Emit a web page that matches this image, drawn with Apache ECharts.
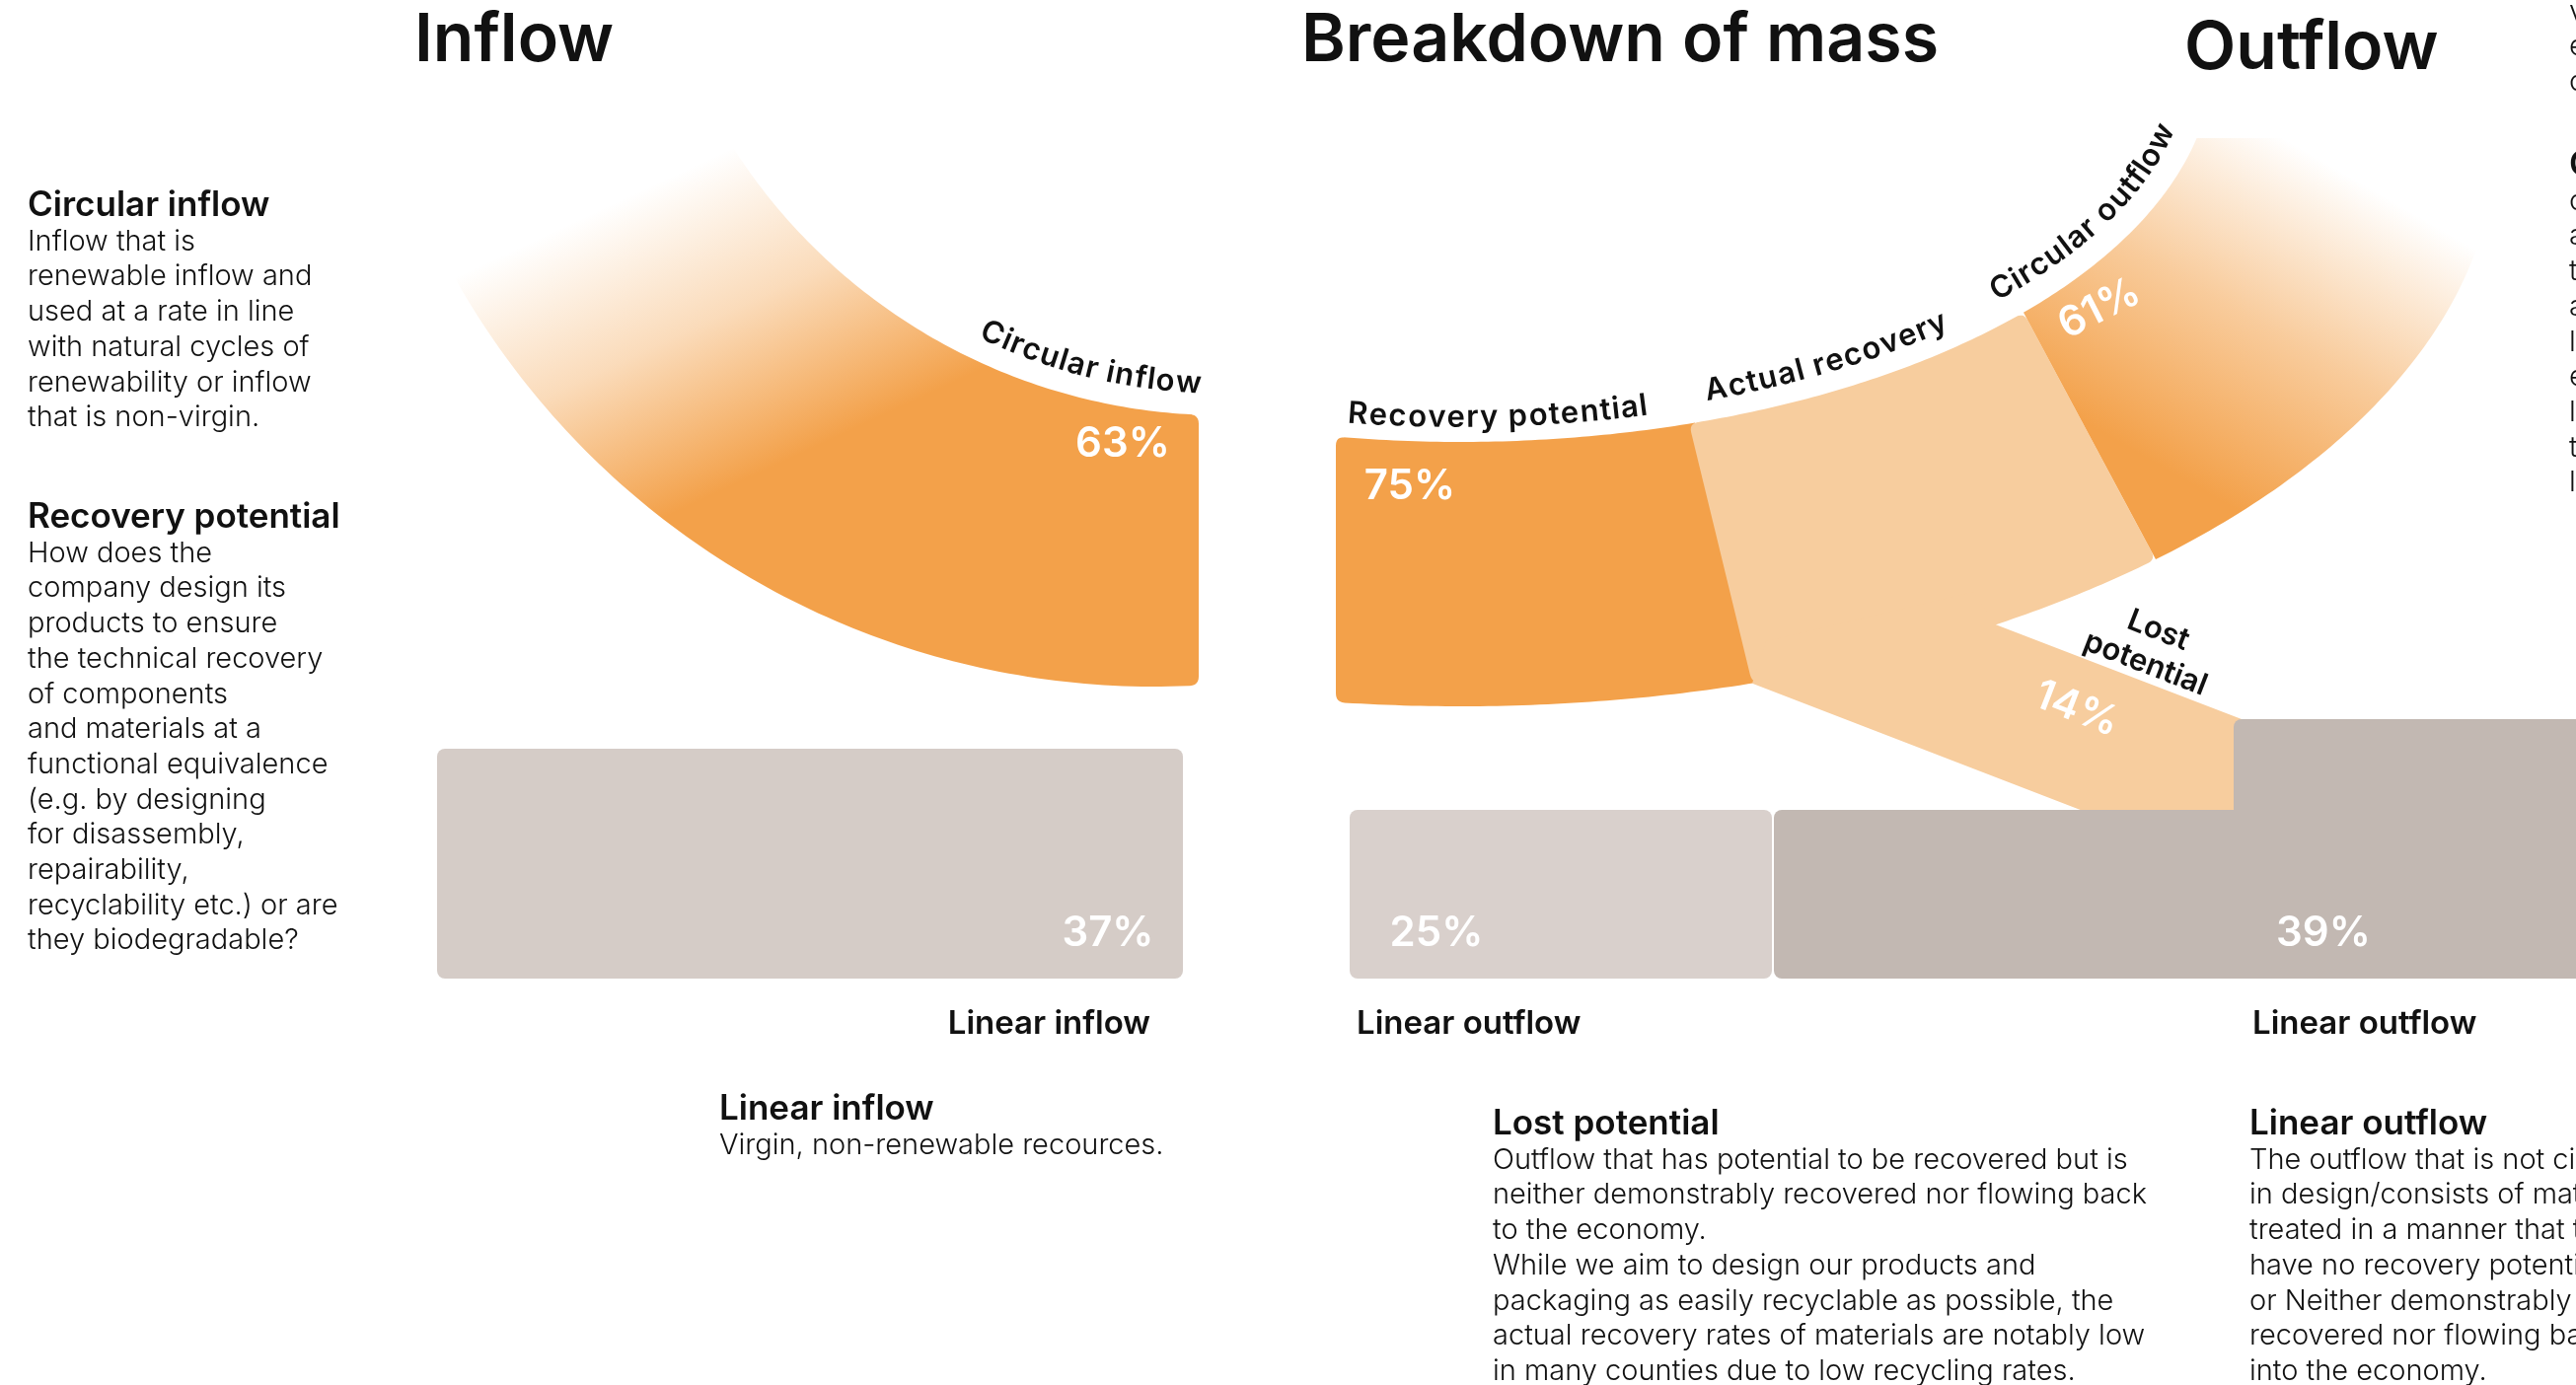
<!DOCTYPE html>
<html>
<head>
<meta charset="utf-8">
<title>Breakdown of mass</title>
<script src="https://cdn.jsdelivr.net/npm/echarts@6/dist/echarts.min.js"></script>
<style>
  html, body { margin: 0; padding: 0; background: #ffffff; overflow: hidden; }
  #chart { width: 2611px; height: 1404px; }
</style>
</head>
<body>
<div id="chart"></div>
<script>
// ---------------- data ----------------
const inflowCategories = ['Circular inflow', 'Linear inflow'];
const inflowShares = [63, 37];

const outflowCategories = ['Recovery potential', 'Actual recovery', 'Circular outflow', 'Lost potential', 'Linear outflow', 'Linear outflow'];
const outflowShares = [75, null, 61, 14, 25, 39];

const titles = ['Inflow', 'Breakdown of mass', 'Outflow'];

// ---------------- look ----------------
const FONT = "Inter, 'Noto Sans', sans-serif";
const ORANGE = '#F3A14A';
const PEACH = '#F7CD9E';
const GREY_IN = '#D5CCC7';
const GREY_LIGHT = '#D9D0CC';
const GREY_DARK = '#C2B8B2';
const INK = '#111111';

// ---------------- layout (pixels on a 2611 x 1404 canvas) ----------------
const W = 2611, H = 1404;
const INFLOW_INNER = { cx: 1239, cy: -168, a: 589, b: 589 };
const INFLOW_OUTER = { cx: 1169, cy: -116, a: 812, b: 812 };
const BAND_INNER = { cx: 1480, cy: 57, a: 764, b: 391 };
const BAND_OUTER = { cx: 1480, cy: 141, a: 1050, b: 575 };
const ARC_TOP = 138;
const CORNER = 9;

function pt(e, phi) { return [e.cx + e.a * Math.cos(phi), e.cy + e.b * Math.sin(phi)]; }
function clamp1(v) { return Math.max(-1, Math.min(1, v)); }
function phiX(e, x) { return Math.acos(clamp1((x - e.cx) / e.a)); }
function phiYRight(e, y) { return Math.asin(clamp1((y - e.cy) / e.b)); }
function phiYLeft(e, y) { return Math.PI - phiYRight(e, y); }
function arcPts(e, p0, p1, n) {
  const out = [];
  for (let i = 0; i <= n; i++) out.push(pt(e, p0 + (p1 - p0) * i / n));
  return out;
}
function shrink(e, d) { return { cx: e.cx, cy: e.cy, a: e.a - d, b: e.b - d }; }

// soften chosen vertices of an outline with a small quadratic fillet
function roundCorners(pts, corners, r) {
  const n = pts.length, out = [];
  for (let i = 0; i < n; i++) {
    const P = pts[i];
    if (corners.indexOf(i) < 0) { out.push(P); continue; }
    const A = pts[(i - 1 + n) % n], B = pts[(i + 1) % n];
    // walk back/forward along the outline until distance r is reached
    const along = (dir) => {
      let k = i, acc = 0, cur = P;
      while (true) {
        const nx = pts[(k + dir + n) % n];
        const d = Math.hypot(nx[0] - cur[0], nx[1] - cur[1]);
        if (acc + d >= r || d === 0) {
          const t = d === 0 ? 0 : (r - acc) / d;
          return [cur[0] + (nx[0] - cur[0]) * t, cur[1] + (nx[1] - cur[1]) * t];
        }
        acc += d; cur = nx; k += dir;
      }
    };
    const P1 = along(-1), P2 = along(1);
    for (let s = 0; s <= 6; s++) {
      const t = s / 6, u = 1 - t;
      out.push([u * u * P1[0] + 2 * u * t * P[0] + t * t * P2[0], u * u * P1[1] + 2 * u * t * P[1] + t * t * P2[1]]);
    }
  }
  return out;
}

// text laid out character by character along an elliptical arc
const measureCtx = document.createElement('canvas').getContext('2d');
const CURVE_SPREAD = 1.09;
function curvedText(api, e, startX, text, font, color) {
  measureCtx.font = font;
  const speed = p => Math.hypot(e.a * Math.sin(p), e.b * Math.cos(p));
  const advance = (phi, dist) => { const h = 0.0002; while (dist > 0) { dist -= speed(phi) * h; phi -= h; } return phi; };
  let phi = phiX(e, startX);
  let prev = 0;
  const out = [];
  for (let k = 0; k < text.length; k++) {
    const upto = measureCtx.measureText(text.slice(0, k + 1)).width;
    const w = (upto - prev) * CURVE_SPREAD; prev = upto;
    const mid = advance(phi, w / 2);
    const p = api.coord(pt(e, mid));
    const ang = Math.atan2(-e.b * Math.cos(mid), e.a * Math.sin(mid));
    if (text[k] !== ' ') {
      out.push({ type: 'text', x: p[0], y: p[1], rotation: -ang,
        style: { text: text[k], font: font, fill: color, align: 'center', verticalAlign: 'bottom' } });
    }
    phi = advance(mid, w / 2);
  }
  return out;
}

const PCT_FONT = '600 42px ' + FONT;
const LABEL_FONT = '600 31px ' + FONT;
const CAPTION_FONT = '600 33px ' + FONT;

function pctText(api, p, value, rot) {
  const c = api.coord(p);
  return { type: 'text', x: c[0], y: c[1], rotation: rot || 0,
    style: { text: value + '%', font: PCT_FONT, fill: '#ffffff', align: 'center', verticalAlign: 'middle' } };
}
function caption(api, p, text, align) {
  const c = api.coord(p);
  return { type: 'text', x: c[0], y: c[1],
    style: { text: text, font: CAPTION_FONT, fill: INK, align: align, verticalAlign: 'middle' } };
}
function poly(api, points, fill) {
  return { type: 'polygon', shape: { points: points.map(p => api.coord(p)) }, style: { fill: fill } };
}
function box(api, x0, y0, x1, y1, r, fill) {
  const a = api.coord([x0, y0]), b = api.coord([x1, y1]);
  return { type: 'rect', shape: { x: a[0], y: a[1], width: b[0] - a[0], height: b[1] - a[1], r: r }, style: { fill: fill } };
}

// ---------------- inflow marks ----------------
function renderInflow(params, api) {
  const i = params.dataIndex;
  const v = inflowShares[i];
  const name = inflowCategories[i];
  if (i === 0) {
    const endX = 1215;
    const inner = arcPts(INFLOW_INNER, phiYLeft(INFLOW_INNER, ARC_TOP), phiX(INFLOW_INNER, endX), 90);
    const outer = arcPts(INFLOW_OUTER, phiX(INFLOW_OUTER, endX), phiYLeft(INFLOW_OUTER, ARC_TOP), 110);
    const outline = roundCorners(inner.concat(outer), [90, 91], CORNER);
    const s = api.coord([560, 235]), e = api.coord([691, 516]);
    const fill = new echarts.graphic.LinearGradient(s[0], s[1], e[0], e[1], [
      { offset: 0, color: 'rgba(243,161,74,0)' },
      { offset: 0.48, color: 'rgba(243,161,74,0.38)' },
      { offset: 1, color: 'rgba(243,161,74,1)' }
    ], true);
    return { type: 'group', children: [poly(api, outline, fill), pctText(api, [1138, 450], v)]
      .concat(curvedText(api, shrink(INFLOW_INNER, 16), 988, name, LABEL_FONT, INK)) };
  }
  return { type: 'group', children: [
    box(api, 443, 759, 1199, 992, 8, GREY_IN),
    pctText(api, [1123, 946], v),
    caption(api, [1166, 1038], name, 'right')
  ] };
}

// ---------------- breakdown / outflow marks ----------------
function renderOutflow(params, api) {
  const i = params.dataIndex;
  const v = outflowShares[i];
  const name = outflowCategories[i];
  if (i === 0) {
    const inner = arcPts(BAND_INNER, phiX(BAND_INNER, 1354), phiX(BAND_INNER, 1718), 50);
    const outer = arcPts(BAND_OUTER, phiX(BAND_OUTER, 1780), phiX(BAND_OUTER, 1354), 50);
    const outline = roundCorners(inner.concat(outer), [0, 101], CORNER);
    return { type: 'group', children: [poly(api, outline, ORANGE), pctText(api, [1429, 493], v)]
      .concat(curvedText(api, shrink(BAND_INNER, 9), 1364, name, LABEL_FONT, INK)) };
  }
  if (i === 1) {
    const inner = arcPts(BAND_INNER, phiX(BAND_INNER, 1712), phiX(BAND_INNER, 2051), 60);
    const outer = arcPts(BAND_OUTER, phiX(BAND_OUTER, 2185), phiX(BAND_OUTER, 1776), 60);
    const outline = roundCorners(inner.concat(outer), [0, 60, 61, 121], CORNER);
    return { type: 'group', children: [poly(api, outline, PEACH)]
      .concat(curvedText(api, shrink(BAND_INNER, 14), 1730, name, LABEL_FONT, INK)) };
  }
  if (i === 2) {
    const inner = arcPts(BAND_INNER, phiX(BAND_INNER, 2051), phiYRight(BAND_INNER, ARC_TOP + 2), 60);
    const outer = arcPts(BAND_OUTER, phiYRight(BAND_OUTER, ARC_TOP + 2), phiX(BAND_OUTER, 2185), 80);
    const s = api.coord([2200, 478]), e = api.coord([2375, 175]);
    const fill = new echarts.graphic.LinearGradient(s[0], s[1], e[0], e[1], [
      { offset: 0, color: 'rgba(243,161,74,1)' },
      { offset: 0.5, color: 'rgba(243,161,74,0.55)' },
      { offset: 1, color: 'rgba(243,161,74,0)' }
    ], true);
    return { type: 'group', children: [poly(api, inner.concat(outer), fill), pctText(api, [2128, 313], v, 0.47)]
      .concat(curvedText(api, shrink(BAND_INNER, 18), 2026, name, LABEL_FONT, INK)) };
  }
  if (i === 3) {
    const notch = pt(BAND_OUTER, phiX(BAND_OUTER, 2023));
    const foot = pt(BAND_OUTER, phiX(BAND_OUTER, 1776));
    const pts = [notch, [2272, 729], [2272, 825], [2119, 825], foot, [1790, 650], [2000, 600]];
    const c = api.coord([2181, 656]);
    return { type: 'group', children: [
      poly(api, pts, PEACH),
      pctText(api, [2105, 719], v, -0.37),
      { type: 'text', x: c[0], y: c[1], rotation: -0.37,
        style: { text: 'Lost\npotential', font: LABEL_FONT, lineHeight: 36, fill: INK, align: 'center', verticalAlign: 'middle' } }
    ] };
  }
  if (i === 4) {
    return { type: 'group', children: [
      box(api, 1368, 821, 1796, 992, 8, GREY_LIGHT),
      pctText(api, [1456, 946], v),
      caption(api, [1375, 1038], name, 'left')
    ] };
  }
  return { type: 'group', children: [
    box(api, 1798, 821, 2720, 992, [8, 0, 0, 8], GREY_DARK),
    box(api, 2264, 729, 2720, 992, [8, 0, 0, 0], GREY_DARK),
    pctText(api, [2355, 946], v),
    caption(api, [2283, 1038], name, 'left')
  ] };
}

// ---------------- explanatory text ----------------
const BODY_FONT = '300 29px ' + FONT;
const HEAD_FONT = '600 35px ' + FONT;
const LINE = 35.7;

const notes = [
  { x: 28, y: 208, head: 'Circular inflow', body: ['Inflow that is', 'renewable inflow and', 'used at a rate in line', 'with natural cycles of', 'renewability or inflow', 'that is non-virgin.'] },
  { x: 28, y: 524, head: 'Recovery potential', body: ['How does the', 'company design its', 'products to ensure', 'the technical recovery', 'of components', 'and materials at a', 'functional equivalence', '(e.g. by designing', 'for disassembly,', 'repairability,', 'recyclability etc.) or are', 'they biodegradable?'] },
  { x: 729, y: 1124, head: 'Linear inflow', body: ['Virgin, non-renewable recources.'] },
  { x: 1513, y: 1139, head: 'Lost potential', body: ['Outflow that has potential to be recovered but is', 'neither demonstrably recovered nor flowing back', 'to the economy.', 'While we aim to design our products and', 'packaging as easily recyclable as possible, the', 'actual recovery rates of materials are notably low', 'in many counties due to low recycling rates.'] },
  { x: 2280, y: 1139, head: 'Linear outflow', body: ['The outflow that is not circular', 'in design/consists of materials', 'treated in a manner that they', 'have no recovery potential', 'or Neither demonstrably', 'recovered nor flowing back', 'into the economy.'] },
  { x: 2604, y: 167, head: 'Circular outflow', body: ['can be reused, recycled', 'and returned to the', 'technical cycle, or', 'actual recovery', 'loops that keep', 'economic value', 'longer in use', 'through repair', 'loops.'] }
];
const preface = { x: 2604, y: 12, body: ['value chain and the', 'economy through', 'circular loops.'] };

const graphics = [];
function textEl(x, y, text, font, align) {
  graphics.push({ type: 'text', x: x, y: y, silent: true,
    style: { text: text, font: font, fill: INK, align: align || 'left', verticalAlign: 'middle' } });
}
textEl(420, 42, titles[0], '600 68px ' + FONT);
textEl(1319, 42, titles[1], '600 68px ' + FONT);
textEl(2214, 50, titles[2], '600 68px ' + FONT);
notes.forEach(n => {
  textEl(n.x, n.y, n.head, HEAD_FONT);
  n.body.forEach((line, k) => textEl(n.x, n.y + 37 + k * LINE, line, BODY_FONT));
});
preface.body.forEach((line, k) => textEl(preface.x, preface.y + k * LINE, line, BODY_FONT));

// ---------------- chart ----------------
const chart = echarts.init(document.getElementById('chart'), null, { renderer: 'canvas', width: W, height: H });
chart.setOption({
  animation: false,
  backgroundColor: '#ffffff',
  grid: { left: 0, right: 0, top: 0, bottom: 0 },
  xAxis: { type: 'value', min: 0, max: W, show: false },
  yAxis: { type: 'value', min: 0, max: H, inverse: true, show: false },
  tooltip: { show: false },
  series: [
    { type: 'custom', name: 'Inflow', renderItem: renderInflow, silent: true,
      data: inflowShares.map((v, i) => [i, v]) },
    { type: 'custom', name: 'Breakdown of mass', renderItem: renderOutflow, silent: true,
      data: outflowShares.map((v, i) => [i, v == null ? 0 : v]) }
  ],
  graphic: graphics
});
</script>
</body>
</html>
